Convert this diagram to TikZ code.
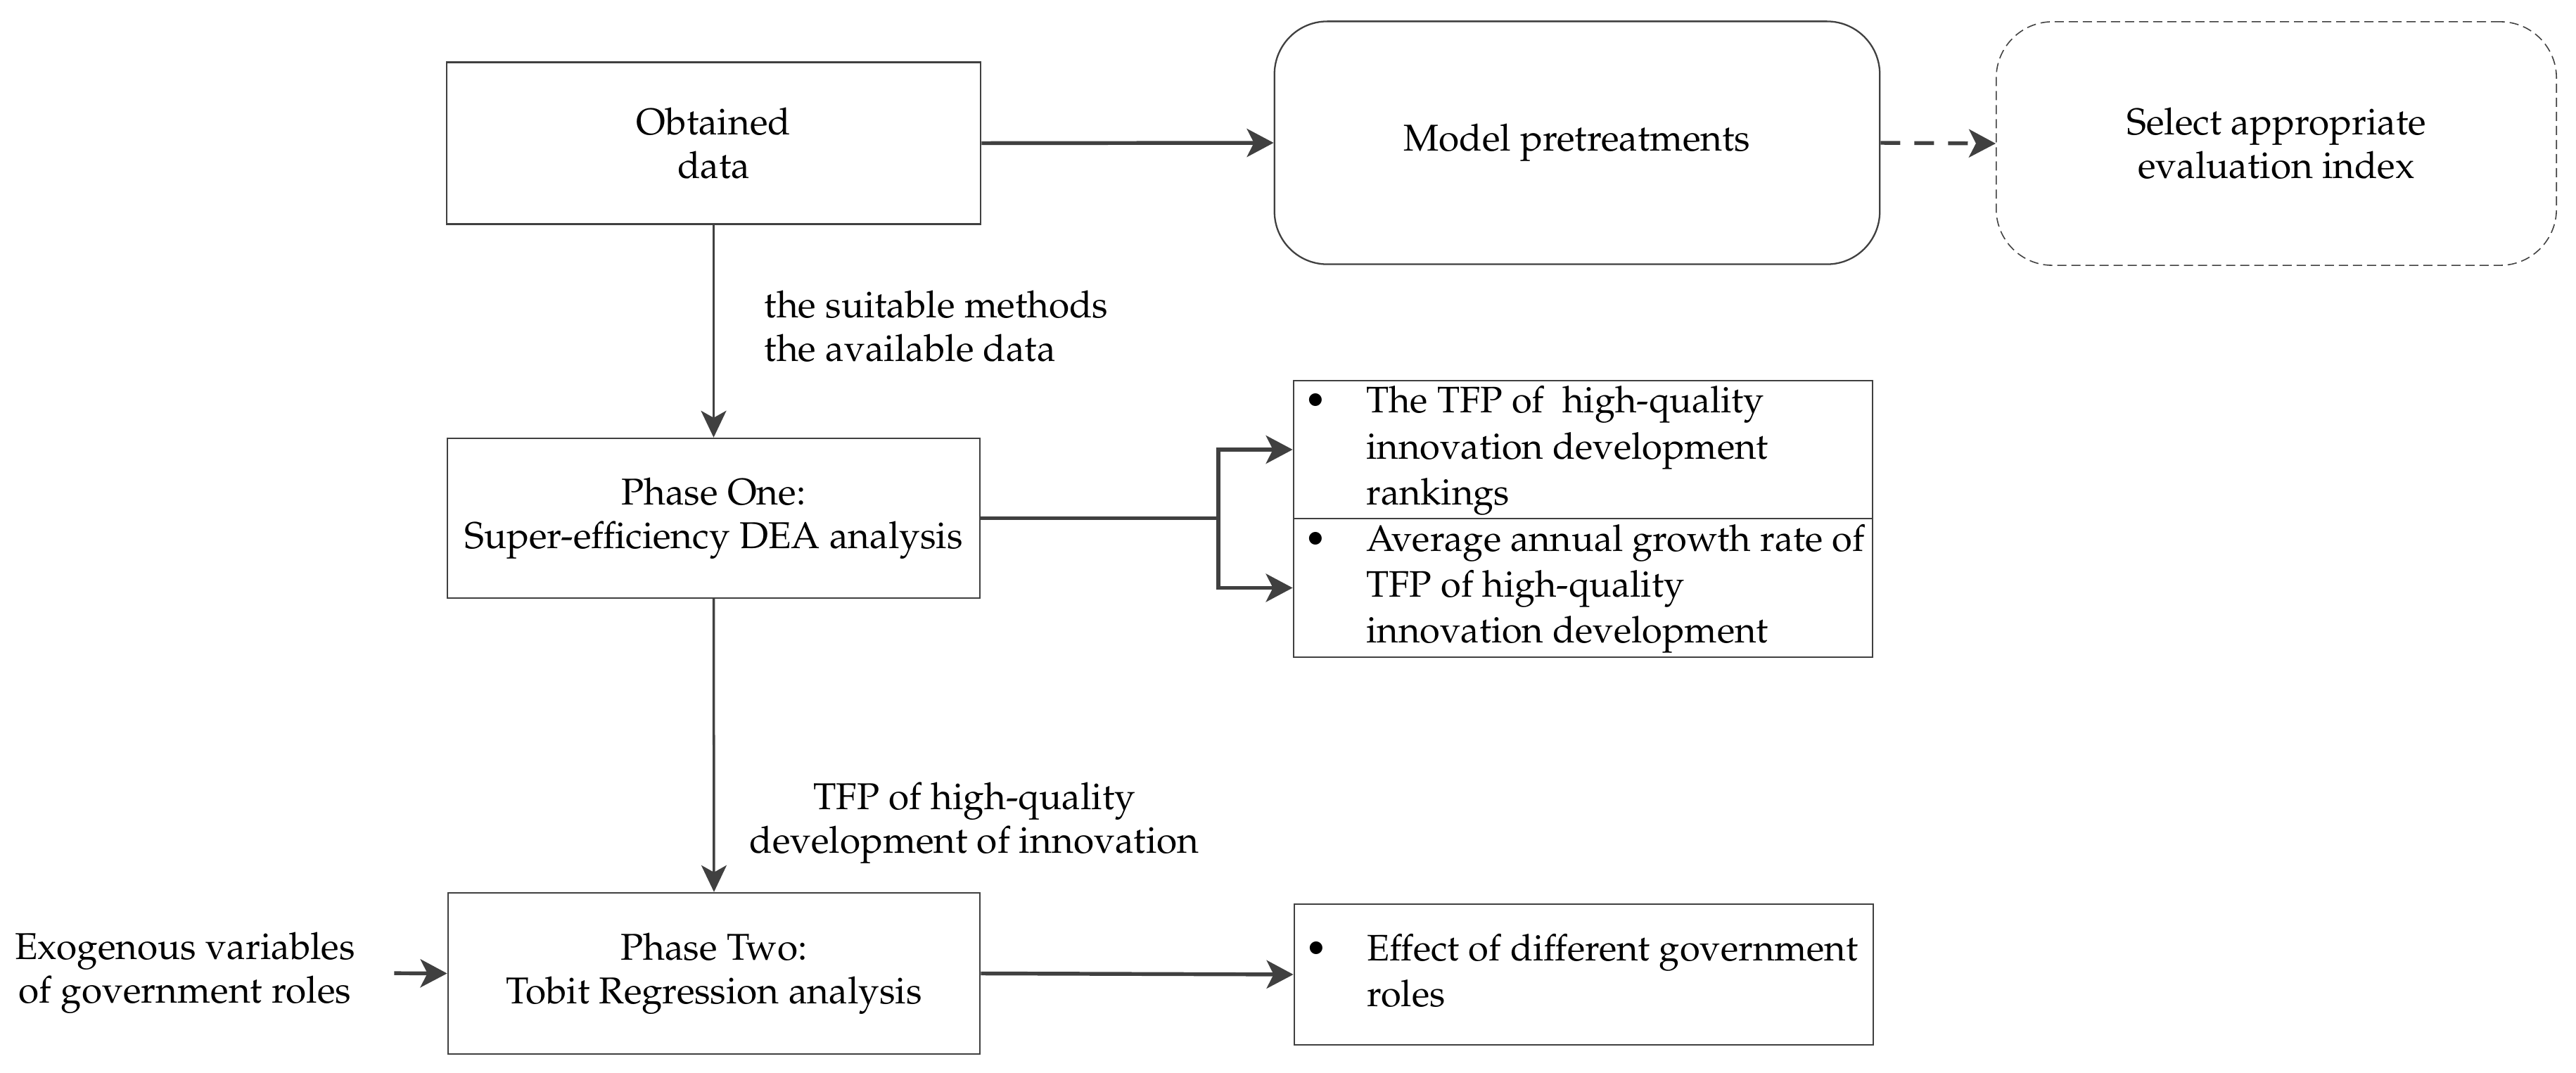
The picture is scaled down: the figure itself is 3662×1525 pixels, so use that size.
\documentclass[tikz,border=0pt]{standalone}
\usepackage[T1]{fontenc}
\usepackage{mathpazo}
\usetikzlibrary{arrows.meta}
\definecolor{ln}{HTML}{404040}
\tikzset{
  txt/.style={font=\fontsize{15.1}{17.6}\selectfont, align=center, text=black},
  box/.style={txt, draw=ln, line width=0.65pt, inner sep=0pt},
  listtxt/.style={font=\fontsize{14.9}{18.5}\selectfont, text=black, inner sep=0pt, anchor=west},
  harrow/.style={draw=ln, line width=1.55pt, -{Stealth[length=0.38cm,width=0.40cm,inset=0.1cm]}},
  hplain/.style={draw=ln, line width=1.55pt},
  varrow/.style={draw=ln, line width=1.0pt, -{Stealth[length=0.38cm,width=0.36cm,inset=0.1cm]}},
}
\begin{document}
\begin{tikzpicture}[x=0.01cm,y=-0.01cm]
\useasboundingbox (0,0) rectangle (3662,1525);
% boxes
\node[box, minimum width=7.59cm, minimum height=2.30cm] (obt) at (1014.5,203.5) {Obtained\\data};
\node[box, rounded corners=0.75cm, minimum width=8.60cm, minimum height=3.45cm] (model) at (2242,203) {Model pretreatments};
\node[txt, draw=ln, line width=0.45pt, dash pattern=on 0.13cm off 0.07cm, rounded corners=0.8cm, inner sep=0pt, minimum width=7.96cm, minimum height=3.46cm] (sel) at (3236,204) {Select appropriate\\evaluation index};
\node[box, minimum width=7.57cm, minimum height=2.27cm] (p1) at (1014.5,736.5) {Phase One:\\Super-efficiency DEA analysis};
\node[box, minimum width=8.23cm, minimum height=1.96cm] (tfpA) at (2250.5,639) {};
\node[box, minimum width=8.23cm, minimum height=1.97cm] (tfpB) at (2250.5,835.5) {};
\node[listtxt] (tfpAt) at ([xshift=0.16cm]tfpA.west) {\begin{tabular}{@{}p{0.88cm}@{}l@{}}\textbullet & The TFP of\ \ high-quality\\ & innovation development\\ & rankings\end{tabular}};
\node[listtxt] (tfpBt) at ([xshift=0.16cm]tfpB.west) {\begin{tabular}{@{}p{0.88cm}@{}l@{}}\textbullet & Average annual growth rate of\\ & TFP of high-quality\\ & innovation development\end{tabular}};
\node[box, minimum width=7.56cm, minimum height=2.29cm] (p2) at (1015,1383.5) {Phase Two:\\Tobit Regression analysis};
\node[box, minimum width=8.23cm, minimum height=2.00cm] (eff) at (2251.5,1385) {};
\node[listtxt] (efft) at ([xshift=0.16cm]eff.west) {\begin{tabular}{@{}p{0.88cm}@{}l@{}}\textbullet & Effect of different government\\ & roles\end{tabular}};
% free labels
\node[txt] (exo) at (263,1383) {Exogenous variables\\of government roles};
\node[txt, align=left, anchor=west, inner sep=0pt] (lab1) at (1086,464) {the suitable methods\\the available data};
\node[txt] (lab2) at (1385,1170) {TFP of high-quality\\development of innovation};
% connectors
\draw[harrow] (obt.east) -- (model.west);
\draw[harrow, dash pattern=on 0.28cm off 0.2cm] (model.east) -- (sel.west);
\draw[varrow] (obt.south) -- (p1.north);
\coordinate (br) at (1732,736.5);
\draw[hplain] (p1.east) -- (br);
\draw[harrow] (br) |- (tfpA.west);
\draw[harrow] (br) |- (tfpB.west);
\draw[varrow] (p1.south) -- (p2.north);
\draw[harrow, shorten <=0.43cm] (exo.east) -- (p2.west);
\draw[harrow] (p2.east) -- (eff.west);
\end{tikzpicture}
\end{document}
